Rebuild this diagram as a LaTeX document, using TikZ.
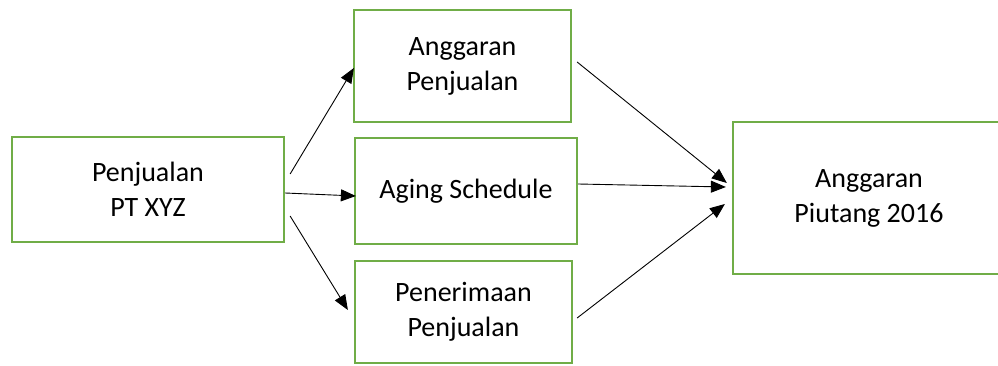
\documentclass[tikz,border=0pt]{standalone}
\usepackage{fontspec}
\setmainfont{Carlito}
\usetikzlibrary{arrows.meta, positioning}
\definecolor{boxgreen}{HTML}{70AD47}
\tikzset{>={Triangle[length=15pt, width=12pt]},
every node/.style={font=\fontsize{28}{35}\selectfont, align=center, inner sep=0pt},
box/.style={draw=boxgreen, line width=2.25pt},
link/.style={->, line width=0.9pt, black},
}

\begin{document}
\begin{tikzpicture}[x=1pt, y=1pt]
    \useasboundingbox (0,0) rectangle (998,365);
    \clip (0,0) rectangle (998,365);
        \node[box, minimum width=272pt, minimum height=105pt] (pj) at (148,175.5) {Penjualan\\PT XYZ};
        \node[box, minimum width=217pt, minimum height=112pt] (angpj) at (462.5,299) {Anggaran\\Penjualan};
        \node[box, minimum width=222pt, minimum height=106pt] (aging) at (466,174) {Aging Schedule};
        \node[box, minimum width=217pt, minimum height=102pt] (terima) at (463.5,53) {Penerimaan\\Penjualan};
        % right side runs off the page
        \node[box, minimum width=272pt, minimum height=152pt] (piutang) at (869,167) {Anggaran\\Piutang 2016};
        % from the sales box
        \draw[link] ([shift={(5,15.5)}]pj.east) -- ([shift={(1,-2)}]angpj.west);
        \draw[link] ([shift={(0,-3.5)}]pj.east) -- ([shift={(2,-5)}]aging.west);
        \draw[link] ([shift={(5,-26.5)}]pj.east) -- ([shift={(-6,2)}]terima.west);
        % into the receivables budget
        \draw[link] ([shift={(5,4)}]angpj.east) -- ([shift={(-5,15)}]piutang.west);
        \draw[link] ([shift={(0,7)}]aging.east) -- ([shift={(-6,11)}]piutang.west);
        \draw[link] ([shift={(4,-6)}]terima.east) -- ([shift={(-7,-6)}]piutang.west);
\end{tikzpicture}
\end{document}
